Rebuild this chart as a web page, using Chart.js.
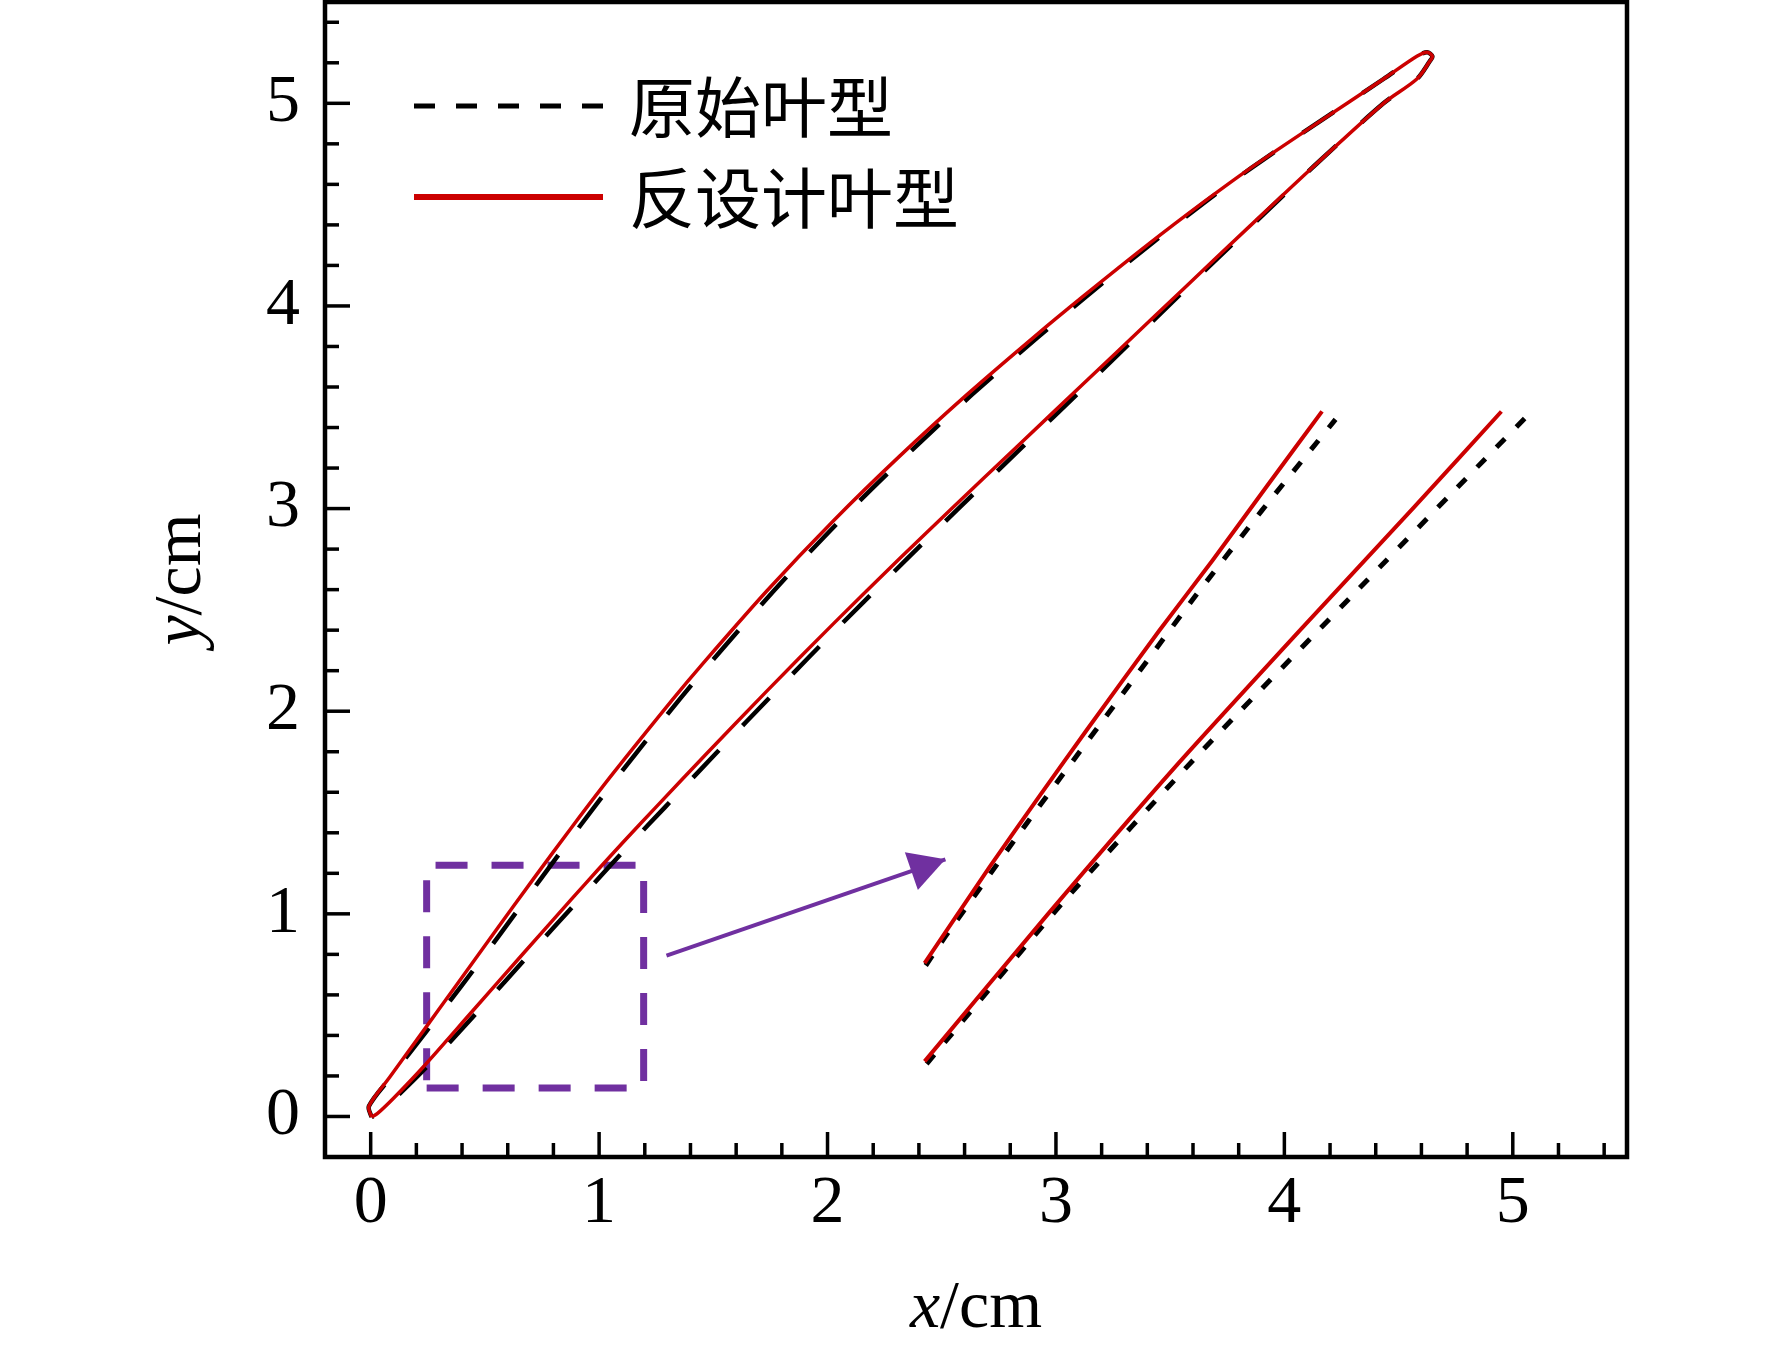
<!DOCTYPE html>
<html>
<head>
<meta charset="utf-8">
<script src="https://cdn.jsdelivr.net/npm/chart.js@4.4.1/dist/chart.umd.min.js"></script>
<style>
html,body{margin:0;padding:0;background:#fff;}
#wrap{width:1772px;height:1347px;position:relative;}
</style>
</head>
<body>
<div id="wrap"><canvas id="c"></canvas></div>
<script>
// ---------- data ----------
const xRange = [-0.2, 5.5];
const yRange = [-0.2, 5.5];
const xTickLabels = [0, 1, 2, 3, 4, 5];
const yTickLabels = [0, 1, 2, 3, 4, 5];
const minorStep = 0.2;
const seriesNames = ['原始叶型', '反设计叶型'];
const axisTitles = {x: ['x', '/cm'], y: ['y', '/cm']};

// redesigned blade (closed loop: LE -> suction side -> TE -> pressure side -> LE)
const redesignedProfile = [
  [0.004,-0.003],[-0.008,0.05],[0.083,0.194],[0.229,0.42],[0.375,0.648],[0.536,0.899],
  [0.711,1.17],[0.886,1.436],[1.061,1.693],[1.324,2.061],[1.441,2.218],[1.733,2.592],
  [2.025,2.939],[2.317,3.26],[2.609,3.561],[2.901,3.844],[3.12,4.048],[3.412,4.311],
  [3.646,4.512],[3.85,4.679],[4.142,4.901],[4.434,5.12],[4.58,5.232],[4.625,5.252],
  [4.648,5.232],[4.635,5.205],[4.58,5.12],[4.434,5.0],[4.142,4.703],[3.996,4.55],
  [3.704,4.24],[3.412,3.928],[3.12,3.616],[2.828,3.304],[2.536,2.992],[2.317,2.755],
  [2.025,2.431],[1.733,2.098],[1.47,1.79],[1.25,1.528],[1.105,1.353],[0.989,1.21],
  [0.886,1.081],[0.667,0.803],[0.448,0.523],[0.229,0.243],[0.10,0.09],[0.03,0.015],[0.004,-0.003]
];
// original blade
const originalProfile = [
  [0.004,-0.003],[-0.008,0.05],[0.088,0.194],[0.244,0.42],[0.40,0.648],[0.566,0.899],
  [0.743,1.17],[0.918,1.436],[1.092,1.693],[1.354,2.061],[1.471,2.218],[1.763,2.592],
  [2.053,2.939],[2.343,3.26],[2.631,3.561],[2.919,3.844],[3.134,4.048],[3.422,4.311],
  [3.652,4.512],[3.853,4.679],[4.142,4.901],[4.434,5.12],[4.58,5.232],[4.625,5.252],
  [4.648,5.232],[4.635,5.205],[4.58,5.12],[4.434,5.0],[4.142,4.703],[4.0,4.55],
  [3.712,4.24],[3.426,3.928],[3.14,3.616],[2.853,3.304],[2.566,2.992],[2.351,2.755],
  [2.062,2.431],[1.773,2.098],[1.51,1.79],[1.29,1.528],[1.143,1.353],[1.026,1.21],
  [0.921,1.081],[0.697,0.803],[0.473,0.523],[0.244,0.243],[0.105,0.088],[0.032,0.013],[0.004,-0.003]
];
// magnified view of the boxed region
const redesignedZoomUpper = [[2.425,0.757],[2.709,1.23],[2.93,1.585],[3.138,1.912],[3.451,2.396],[3.686,2.745],[3.92,3.105],[4.165,3.48]];
const redesignedZoomLower = [[2.425,0.272],[2.962,0.995],[3.53,1.735],[4.077,2.41],[4.566,3.005],[4.95,3.479]];
const originalZoomUpper = [[2.43,0.745],[2.52,0.895],[2.874,1.45],[3.236,2.0],[3.598,2.55],[3.901,2.99],[4.116,3.29],[4.224,3.44]];
const originalZoomLower = [[2.434,0.26],[3.041,1.07],[3.627,1.79],[4.292,2.565],[4.879,3.245],[5.074,3.47]];
// annotation
const zoomBox = [[0.245,0.14],[1.195,0.14],[1.195,1.24],[0.245,1.24],[0.245,0.14]];
const arrowLine = [[1.295,0.794],[2.516,1.269]];

// ---------- styles ----------
const RED = '#CC0000', BLACK = '#000000', PURPLE = '#7030A0';
const SERIF = '"Liberation Serif","Times New Roman",serif';
const CJK = '"Noto Sans CJK SC","Noto Sans CJK TC",sans-serif';

const toPts = arr => arr.map(([x, y]) => ({x, y}));
const line = (data, color, width, dash, tension, order) => ({
  data: toPts(data), borderColor: color, backgroundColor: color, borderWidth: width,
  borderDash: dash, tension, order, showLine: true, pointRadius: 0, fill: false
});

const frameTicks = {
  id: 'frameTicks',
  afterDraw(chart) {
    const {ctx, chartArea: a, scales: {x, y}} = chart;
    ctx.save();
    ctx.strokeStyle = '#000';
    ctx.lineWidth = 3.5;
    ctx.lineCap = 'butt';
    const n0 = Math.round(xRange[0] / minorStep), n1 = Math.round(xRange[1] / minorStep);
    for (let i = n0 + 1; i <= n1; i++) {
      const v = i * minorStep;
      const major = Math.abs(v - Math.round(v)) < 1e-6;
      const len = major ? 25 : 14;
      const px = x.getPixelForValue(v);
      if (px < a.right - 2) {
        ctx.beginPath(); ctx.moveTo(px, a.bottom); ctx.lineTo(px, a.bottom - len); ctx.stroke();
      }
    }
    const m0 = Math.round(yRange[0] / minorStep), m1 = Math.round(yRange[1] / minorStep);
    for (let i = m0 + 1; i <= m1; i++) {
      const v = i * minorStep;
      const major = Math.abs(v - Math.round(v)) < 1e-6;
      const len = major ? 25 : 14;
      const py = y.getPixelForValue(v);
      if (py > a.top + 2) {
        ctx.beginPath(); ctx.moveTo(a.left, py); ctx.lineTo(a.left + len, py); ctx.stroke();
      }
    }
    ctx.lineWidth = 4.5;
    ctx.strokeRect(a.left, a.top, a.right - a.left, a.bottom - a.top);
    ctx.restore();
  }
};

function drawMixed(ctx, parts, cx, by) {
  const fonts = ['italic 68px ' + SERIF, '68px ' + SERIF];
  let total = 0;
  const widths = parts.map((t, i) => { ctx.font = fonts[i]; const w = ctx.measureText(t).width; total += w; return w; });
  let xx = cx - total / 2;
  ctx.textAlign = 'left';
  ctx.textBaseline = 'alphabetic';
  parts.forEach((t, i) => { ctx.font = fonts[i]; ctx.fillText(t, xx, by); xx += widths[i]; });
}

const axisTitlePlugin = {
  id: 'axisTitles',
  afterDraw(chart) {
    const {ctx, chartArea: a} = chart;
    ctx.save();
    ctx.fillStyle = '#000';
    drawMixed(ctx, axisTitles.x, (a.left + a.right) / 2, a.bottom + 170);
    ctx.translate(a.left - 125, (a.top + a.bottom) / 2);
    ctx.rotate(-Math.PI / 2);
    drawMixed(ctx, axisTitles.y, 0, 0);
    ctx.restore();
  }
};

const legendPlugin = {
  id: 'innerLegend',
  afterDraw(chart) {
    const {ctx, chartArea: a} = chart;
    const items = [
      {text: seriesNames[0], color: BLACK, width: 5, dash: [21, 21], dy: 104},
      {text: seriesNames[1], color: RED, width: 6, dash: [], dy: 195}
    ];
    ctx.save();
    items.forEach(it => {
      const yy = a.top + it.dy;
      ctx.strokeStyle = it.color;
      ctx.lineWidth = it.width;
      ctx.setLineDash(it.dash);
      ctx.beginPath(); ctx.moveTo(a.left + 89, yy); ctx.lineTo(a.left + 278, yy); ctx.stroke();
      ctx.setLineDash([]);
      ctx.fillStyle = '#000';
      ctx.font = '66px ' + CJK;
      ctx.textAlign = 'left';
      ctx.textBaseline = 'middle';
      ctx.fillText(it.text, a.left + 304, yy + 1);
    });
    ctx.restore();
  }
};

const arrowHeadPlugin = {
  id: 'arrowHead',
  afterDatasetsDraw(chart) {
    const {ctx, scales: {x, y}} = chart;
    const [p0, p1] = arrowLine;
    const x0 = x.getPixelForValue(p0[0]), y0 = y.getPixelForValue(p0[1]);
    const x1 = x.getPixelForValue(p1[0]), y1 = y.getPixelForValue(p1[1]);
    const ang = Math.atan2(y1 - y0, x1 - x0);
    ctx.save();
    ctx.translate(x1, y1);
    ctx.rotate(ang);
    ctx.beginPath();
    ctx.moveTo(0, 0); ctx.lineTo(-36, -20); ctx.lineTo(-36, 20); ctx.closePath();
    ctx.fillStyle = PURPLE;
    ctx.fill();
    ctx.restore();
  }
};

new Chart(document.getElementById('c'), {
  type: 'scatter',
  data: {
    datasets: [
      Object.assign(line(redesignedProfile, RED, 3.5, [], 0.3, 0), {label: seriesNames[1]}),
      line(redesignedZoomUpper, RED, 4, [], 0.2, 0),
      line(redesignedZoomLower, RED, 4, [], 0.2, 0),
      Object.assign(line(originalProfile, BLACK, 4.5, [38, 34], 0.3, 1), {label: seriesNames[0]}),
      line(originalZoomUpper, BLACK, 5, [12, 16], 0.2, 1),
      line(originalZoomLower, BLACK, 5, [12, 16], 0.2, 1),
      line(zoomBox, PURPLE, 7, [32, 24], 0, 2),
      line(arrowLine, PURPLE, 4, [], 0, 2)
    ]
  },
  options: {
    responsive: true,
    maintainAspectRatio: false,
    devicePixelRatio: 1,
    animation: false,
    events: [],
    layout: {padding: {top: 2, right: 145, bottom: 0, left: 0}},
    plugins: {legend: {display: false}, tooltip: {enabled: false}, title: {display: false}},
    scales: {
      x: {
        type: 'linear', min: xRange[0], max: xRange[1],
        grid: {display: false, drawTicks: false},
        border: {display: false},
        afterBuildTicks: s => { s.ticks = xTickLabels.map(v => ({value: v})); },
        afterFit: s => { s.height = 190; s.paddingLeft = 0; s.paddingRight = 0; },
        ticks: {color: '#000', font: {family: SERIF, size: 68}, padding: 6, maxRotation: 0, autoSkip: false}
      },
      y: {
        type: 'linear', min: yRange[0], max: yRange[1],
        grid: {display: false, drawTicks: false},
        border: {display: false},
        afterBuildTicks: s => { s.ticks = yTickLabels.map(v => ({value: v})); },
        afterFit: s => { s.width = 325; s.paddingTop = 0; s.paddingBottom = 0; },
        ticks: {color: '#000', font: {family: SERIF, size: 68}, padding: 25, autoSkip: false}
      }
    }
  },
  plugins: [frameTicks, axisTitlePlugin, legendPlugin, arrowHeadPlugin]
});
</script>
</body>
</html>
